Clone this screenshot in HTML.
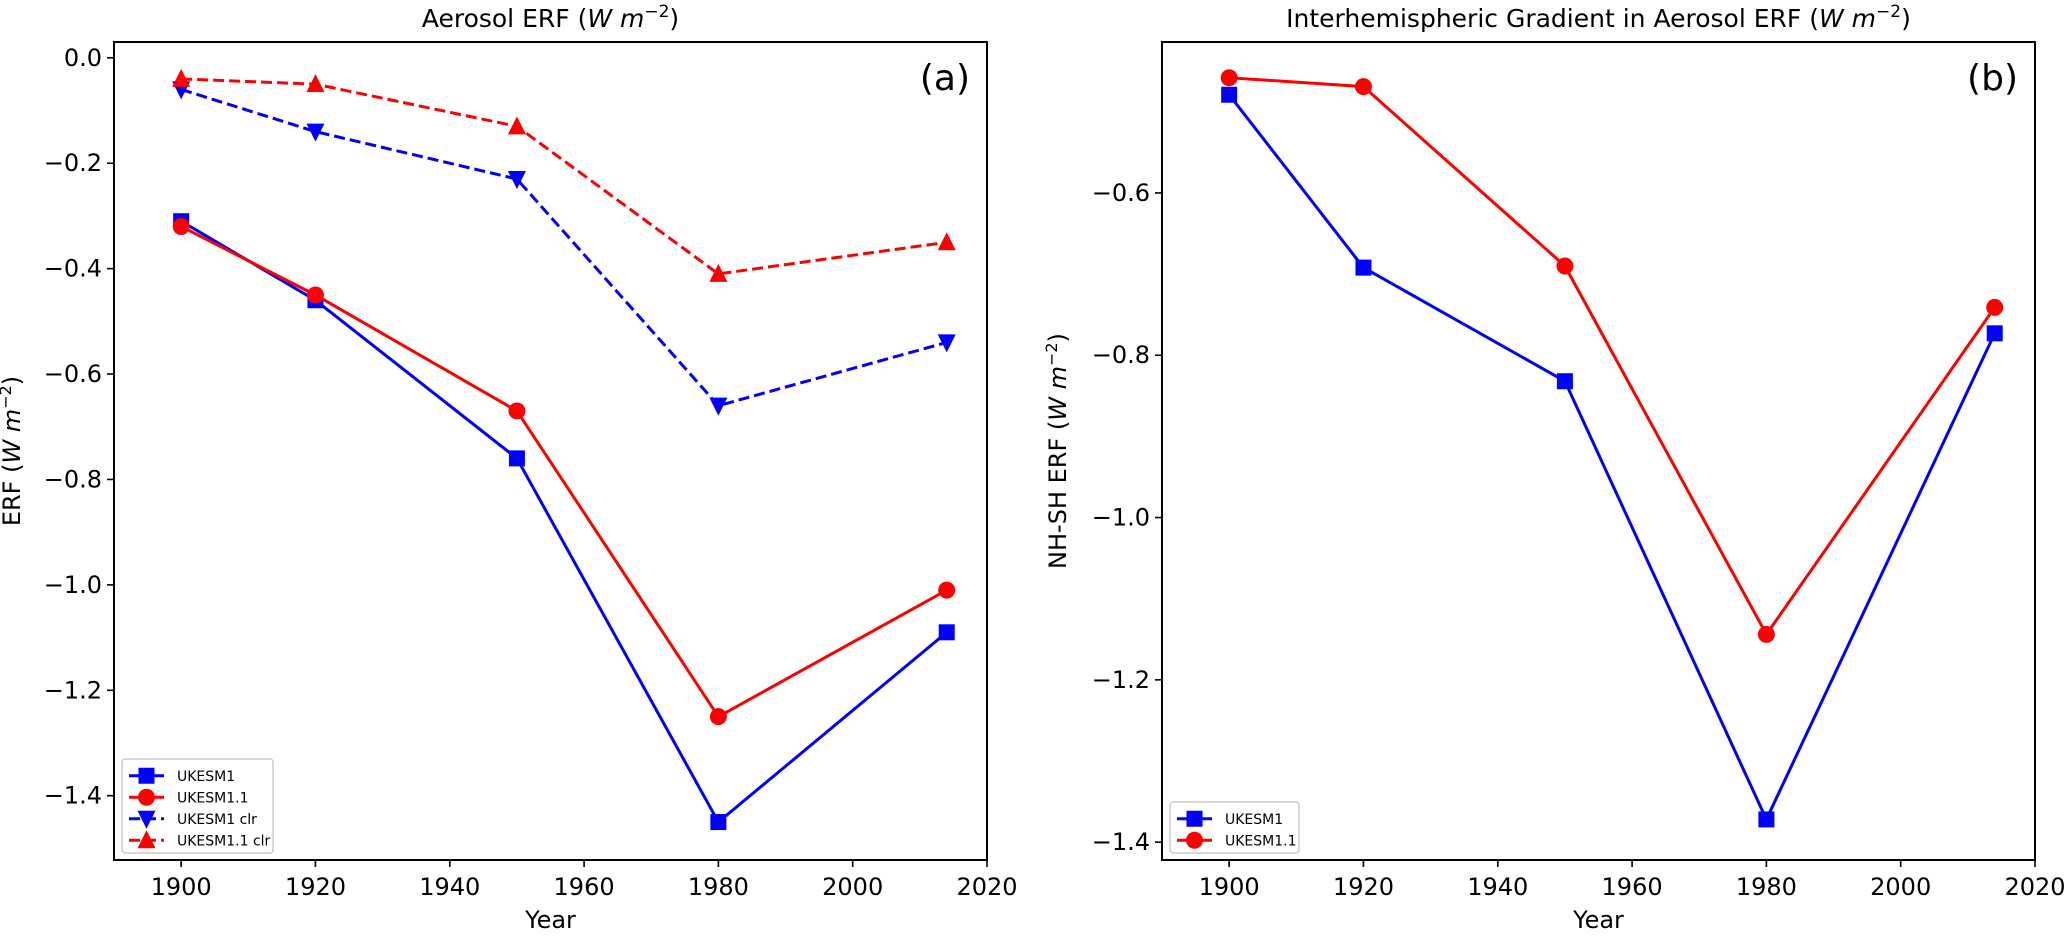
<!DOCTYPE html>
<html><head><meta charset="utf-8"><style>
body{margin:0;background:#fff}
svg text{font-family:"DejaVu Sans","Liberation Sans",sans-serif;fill:#000}
</style></head><body>
<svg id="fig" width="2067" height="935" viewBox="0 0 2067 935" xmlns="http://www.w3.org/2000/svg"></svg>
<script>
const years=[1900,1920,1950,1980,2014];
const aUKESM1=[-0.31,-0.46,-0.76,-1.45,-1.09];
const aUKESM11=[-0.32,-0.45,-0.67,-1.25,-1.01];
const aUKESM1clr=[-0.06,-0.14,-0.23,-0.66,-0.54];
const aUKESM11clr=[-0.04,-0.05,-0.13,-0.41,-0.35];
const bUKESM1=[-0.479,-0.692,-0.832,-1.372,-0.773];
const bUKESM11=[-0.458,-0.469,-0.69,-1.144,-0.741];
const xTicks=[1900,1920,1940,1960,1980,2000,2020];
const aYTicks=[0.0,-0.2,-0.4,-0.6,-0.8,-1.0,-1.2,-1.4];
const bYTicks=[-0.6,-0.8,-1.0,-1.2,-1.4];
const NS="http://www.w3.org/2000/svg";
const svg=document.getElementById('fig');
function mk(t,a,p){const e=document.createElementNS(NS,t);for(const k in a)e.setAttribute(k,a[k]);(p||svg).appendChild(e);return e;}
function panel(o){
  const g=mk('g',{});
  
  
  const X=v=>o.l+(v-o.x0)/(o.x1-o.x0)*(o.r-o.l);
  const Y=v=>o.t+(o.y1-v)/(o.y1-o.y0)*(o.b-o.t);
  xTicks.forEach(v=>{const x=X(v);mk('line',{x1:x,x2:x,y1:o.b,y2:o.b+7,stroke:'#000','stroke-width':1.6},g);
    const t=mk('text',{x:x,y:o.b+35,'font-size':24,'text-anchor':'middle'},g);t.textContent=v;
    });
  o.yt.forEach(v=>{const y=Y(v);mk('line',{x1:o.l-7,x2:o.l,y1:y,y2:y,stroke:'#000','stroke-width':1.6},g);
    const t=mk('text',{x:o.l-12,y:y+8,'font-size':24,'text-anchor':'end'},g);t.textContent=(v<0?'\u2212':'')+Math.abs(v).toFixed(1);
    });
  o.series.forEach(s=>{
    const pts=years.map((yr,i)=>X(yr)+','+Y(s.v[i])).join(' ');
    const pl=mk('polyline',{points:pts,fill:'none',stroke:s.c,'stroke-width':3,'stroke-dasharray':s.dash?'11,5':'none'},g);
    
    years.forEach((yr,i)=>{const m=marker(s.m,X(yr),Y(s.v[i]),s.c,g);
      });
  });
  const fr=mk('rect',{x:o.l,y:o.t,width:o.r-o.l,height:o.b-o.t,fill:'none',stroke:'#000','stroke-width':2},g);
  
  const n=o.series.length, lh=21.5, lx=o.l+8, lb=o.b-7, lt=lb-n*lh-8;
  const lg=mk('g',{},g);
  
  mk('rect',{x:lx,y:lt,width:o.lw,height:lb-lt,rx:3,fill:'#fff',stroke:'#ccc','stroke-width':1.5},lg);
  o.series.forEach((s,i)=>{const y=lt+8+lh*i+lh/2-2;
    mk('line',{x1:lx+7,x2:lx+42,y1:y,y2:y,stroke:s.c,'stroke-width':3,'stroke-dasharray':s.dash?'11,5':'none'},lg);
    marker(s.m,lx+24.5,y,s.c,lg);
    const t=mk('text',{x:lx+55,y:y+5,'font-size':14},lg);t.textContent=s.label;
    });
  const tt=mk('text',{x:(o.l+o.r)/2,y:27,'font-size':25,'text-anchor':'middle'},g);
  tt.innerHTML=o.title+' (<tspan font-style="italic">W m</tspan><tspan font-size="17" dy="-10">\u22122</tspan><tspan dy="10">)</tspan>';
  
  const pl=mk('text',{x:o.r-17,y:90,'font-size':36,'text-anchor':'end'},g);pl.textContent=o.tag;
  
  const xl=mk('text',{x:(o.l+o.r)/2,y:928,'font-size':24,'text-anchor':'middle'},g);xl.textContent='Year';
  
  const cy=(o.t+o.b)/2;
  const yl=mk('text',{x:o.ylx,y:cy,'font-size':24,'text-anchor':'middle',transform:`rotate(-90 ${o.ylx} ${cy})`},g);
  yl.innerHTML=o.ylab+' (<tspan font-style="italic">W m</tspan><tspan font-size="16" dy="-9">\u22122</tspan><tspan dy="9">)</tspan>';
  
}
function marker(m,x,y,c,p){
  if(m==='s')return mk('rect',{x:x-8,y:y-8,width:16,height:16,fill:c},p);
  if(m==='o')return mk('circle',{cx:x,cy:y,r:8.5,fill:c},p);
  if(m==='v')return mk('polygon',{points:`${x-9},${y-8} ${x+9},${y-8} ${x},${y+10}`,fill:c},p);
  return mk('polygon',{points:`${x-9},${y+8} ${x+9},${y+8} ${x},${y-10}`,fill:c},p);
}
panel({name:'panel-a',l:114,r:987,t:42,b:860,x0:1890,x1:2020,y0:-1.522,y1:0.030,yt:aYTicks,lw:151,
  title:'Aerosol ERF',tag:'(a)',ylab:'ERF',ylx:20,
  series:[{id:'ukesm1',label:'UKESM1',v:aUKESM1,c:'#0000ff',m:'s'},
          {id:'ukesm1-1',label:'UKESM1.1',v:aUKESM11,c:'#ff0000',m:'o'},
          {id:'ukesm1-clr',label:'UKESM1 clr',v:aUKESM1clr,c:'#0000ff',m:'v',dash:1},
          {id:'ukesm1-1-clr',label:'UKESM1.1 clr',v:aUKESM11clr,c:'#ff0000',m:'^',dash:1}]});
panel({name:'panel-b',l:1162,r:2035,t:42,b:860,x0:1890,x1:2020,y0:-1.422,y1:-0.414,yt:bYTicks,lw:129,
  title:'Interhemispheric Gradient in Aerosol ERF',tag:'(b)',ylab:'NH-SH ERF',ylx:1066,
  series:[{id:'ukesm1',label:'UKESM1',v:bUKESM1,c:'#0000ff',m:'s'},
          {id:'ukesm1-1',label:'UKESM1.1',v:bUKESM11,c:'#ff0000',m:'o'}]});
</script>
</body></html>
